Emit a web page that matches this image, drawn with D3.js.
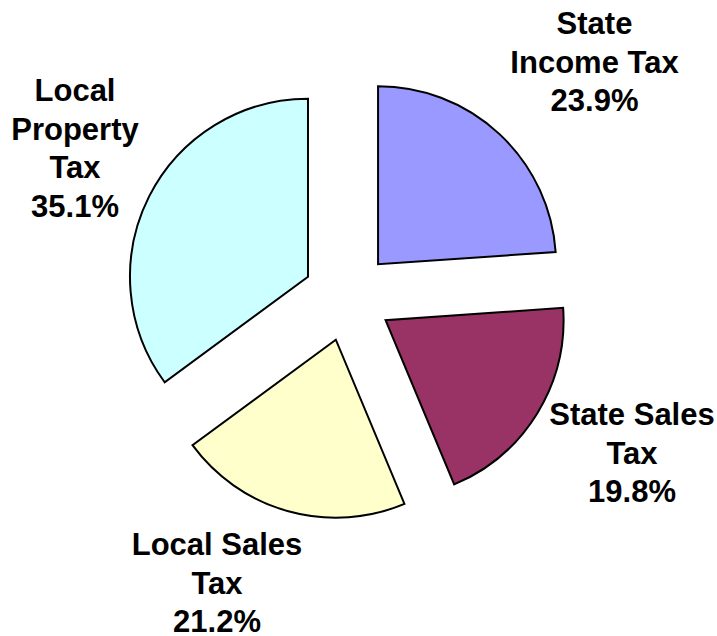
<!DOCTYPE html>
<html>
<head>
<meta charset="utf-8">
<script src="https://cdn.jsdelivr.net/npm/d3@7"></script>
<style>
  html, body { margin: 0; padding: 0; background: #ffffff; }
  svg { display: block; }
  text { font-family: "Liberation Sans", Arial, sans-serif; font-weight: bold; }
</style>
</head>
<body>
<svg id="chart" width="717" height="636"></svg>
<script>
const categories = ["State Income Tax", "State Sales Tax", "Local Sales Tax", "Local Property Tax"];
const values = [23.9, 19.8, 21.2, 35.1];
const colors = ["#9999FF", "#993366", "#FFFFCC", "#CCFFFF"];
const labelLines = [
  ["State", "Income Tax", "23.9%"],
  ["State Sales", "Tax", "19.8%"],
  ["Local Sales", "Tax", "21.2%"],
  ["Local", "Property", "Tax", "35.1%"]
];

const W = 717, H = 636;
const cx = 347.7, cy = 296.8, R = 178, explode = 44.5;
const labelPos = [
  {x: 594.5, y: 34},
  {x: 632, y: 425},
  {x: 217, y: 555},
  {x: 75, y: 101}
];
const lineH = 38.5;

const svg = d3.select("#chart");
const data = categories.map((c, i) => ({name: c, value: values[i], color: colors[i], lines: labelLines[i], lp: labelPos[i]}));

const pie = d3.pie().value(d => d.value).sort(null).startAngle(0).endAngle(2 * Math.PI);
const arc = d3.arc().innerRadius(0).outerRadius(R);
const arcs = pie(data);

const g = svg.append("g").attr("transform", `translate(${cx},${cy})`);
g.selectAll("path.slice")
  .data(arcs)
  .enter().append("path")
  .attr("class", "slice")
  .attr("d", arc)
  .attr("fill", d => d.data.color)
  .attr("stroke", "#000")
  .attr("stroke-width", 2)
  .attr("stroke-linejoin", "miter")
  .attr("transform", d => {
    const m = (d.startAngle + d.endAngle) / 2;
    return `translate(${explode * Math.sin(m)},${-explode * Math.cos(m)})`;
  });

const lab = svg.selectAll("text.label")
  .data(data)
  .enter().append("text")
  .attr("class", "label")
  .attr("text-anchor", "middle")
  .attr("font-size", 31)
  .attr("fill", "#000");
lab.each(function(d) {
  const t = d3.select(this);
  d.lines.forEach((ln, i) => {
    t.append("tspan").attr("x", d.lp.x).attr("y", d.lp.y + i * lineH).text(ln);
  });
});
</script>
</body>
</html>
